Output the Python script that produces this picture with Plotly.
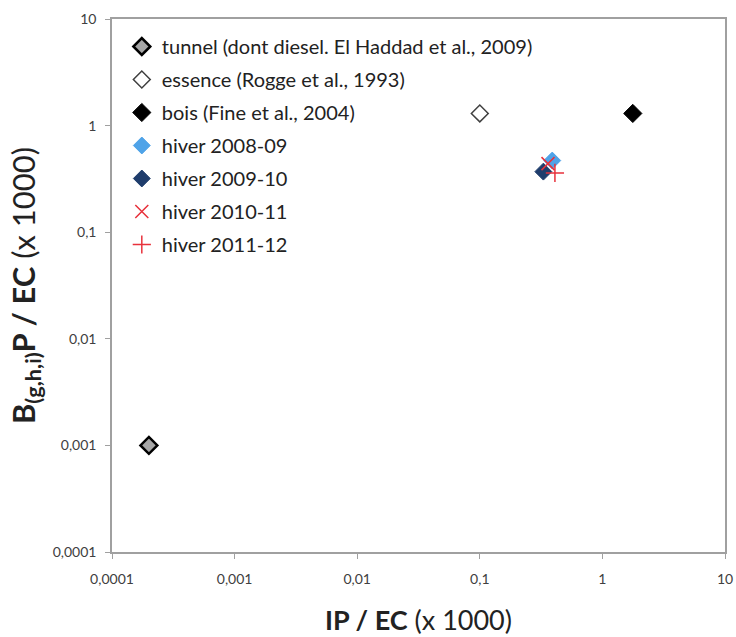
import plotly.graph_objects as go

# Source profiles and winter campaign ratios (x 1000)
names = [
    "tunnel (dont diesel. El Haddad et al., 2009)",
    "essence (Rogge et al., 1993)",
    "bois (Fine et al., 2004)",
    "hiver 2008-09",
    "hiver 2009-10",
    "hiver 2010-11",
    "hiver 2011-12",
]
ip_ec = [0.0002, 0.1, 1.77, 0.39, 0.33, 0.36, 0.41]
bghi_ec = [0.001, 1.3, 1.3, 0.47, 0.37, 0.44, 0.36]

tick_vals = [0.0001, 0.001, 0.01, 0.1, 1, 10]
tick_text = ["0,0001", "0,001", "0,01", "0,1", "1", "10"]

styles = [
    dict(symbol="diamond", size=13, color="#a6a6a6", line=dict(color="#000000", width=2.5)),
    dict(symbol="diamond", size=13, color="#ffffff", line=dict(color="#404040", width=1.5)),
    dict(symbol="diamond", size=14, color="#000000", line=dict(color="#000000", width=1)),
    dict(symbol="diamond", size=13, color="#4fa3e8", line=dict(color="#4fa3e8", width=1)),
    dict(symbol="diamond", size=13, color="#1f3d6c", line=dict(color="#1f3d6c", width=1)),
    dict(symbol="x-thin", size=13, color="#e8323c", line=dict(color="#e8323c", width=1.5)),
    dict(symbol="cross-thin", size=13, color="#e8323c", line=dict(color="#e8323c", width=1.5)),
]

fig = go.Figure()
for i, name in enumerate(names):
    fig.add_trace(go.Scatter(
        x=[ip_ec[i]], y=[bghi_ec[i]], mode="markers", name=name,
        marker=styles[i], legendgroup=f"g{i}",
    ))

axis_common = dict(
    type="log", tickvals=tick_vals, ticktext=tick_text,
    showgrid=False, zeroline=False, automargin=False,
    showline=True, linecolor="#a0a0a0", linewidth=1.5, mirror=True,
    ticks="outside", ticklen=5, tickcolor="#a0a0a0",
    tickfont=dict(family="Lato", size=14, color="#404040"),
)

fig.update_xaxes(
    range=[-4, 1], ticklabelstandoff=8,
    title=dict(text="<b>IP / EC</b> (x 1000)", font=dict(family="Lato", size=27, color="#222222"), standoff=26),
    **axis_common,
)
fig.update_yaxes(
    range=[-4, 1], ticklabelstandoff=6,
    title=dict(text="<b>B<sub>(g,h,i)</sub>P / EC</b> (x 1000)", font=dict(family="Lato", size=31, color="#222222"), standoff=8),
    **axis_common,
)

fig.update_layout(
    width=736, height=637,
    margin=dict(l=112, r=11, t=19, b=85),
    paper_bgcolor="white", plot_bgcolor="white",
    showlegend=True,
    legend=dict(
        x=0.016, y=0.985, xanchor="left", yanchor="top",
        bgcolor="rgba(0,0,0,0)", borderwidth=0,
        font=dict(family="Lato", size=20, color="#222222"),
        traceorder="grouped", tracegroupgap=4,
        itemwidth=30,
    ),
)

fig.write_html("out.html")
